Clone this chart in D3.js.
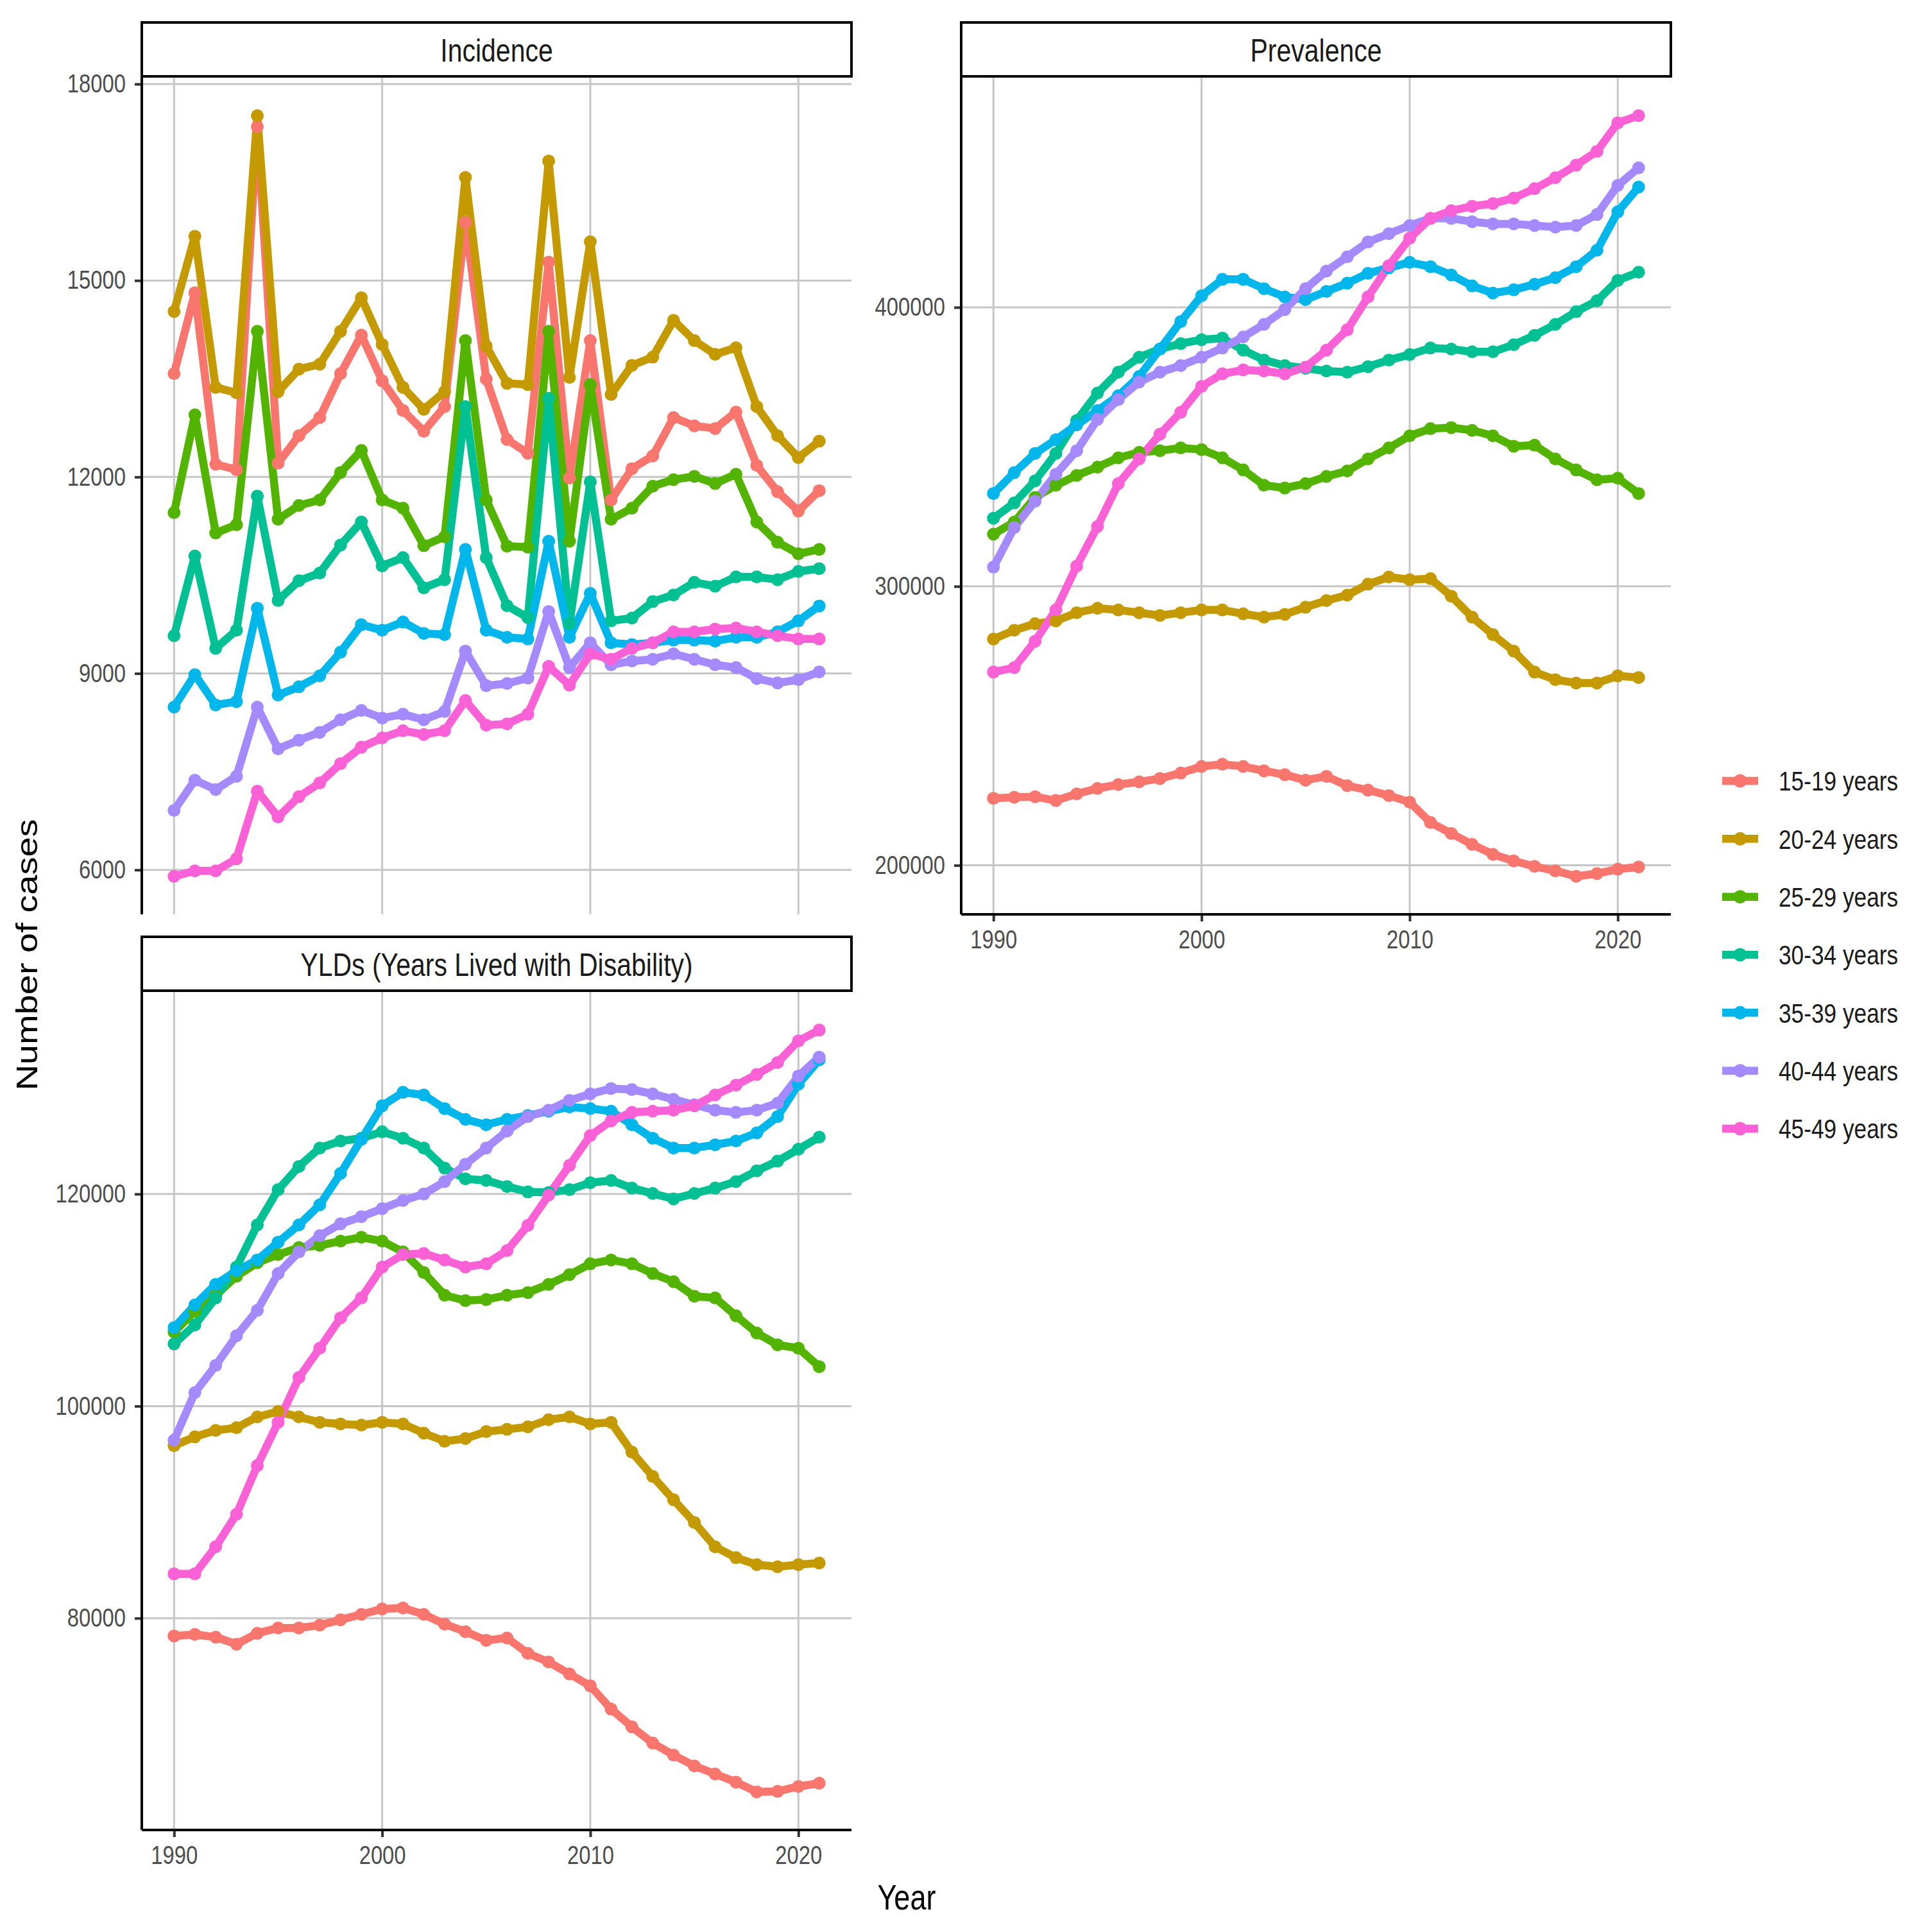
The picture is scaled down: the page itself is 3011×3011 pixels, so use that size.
<!DOCTYPE html>
<html>
<head>
<meta charset="utf-8">
<style>
html, body { margin: 0; padding: 0; background: #fff; }
text { font-family: "Liberation Sans", Arial, sans-serif; }
</style>
<script src="https://cdn.jsdelivr.net/npm/d3@7"></script>
</head>
<body>
<div id="chart"></div>
<script>
var years = d3.range(1990, 2022);
var groups = ["15-19 years", "20-24 years", "25-29 years", "30-34 years", "35-39 years", "40-44 years", "45-49 years"];
var colors = ["#F8766D", "#C49A00", "#53B400", "#00C094", "#00B6EB", "#A58AFF", "#FB61D7"];
var xTicks = [1990, 2000, 2010, 2020];

// Incidence
var inc15 = [13578,14812,12194,12110,17350,12211,12630,12907,13578,14166,13469,13016,12697,13075,15886,13494,12572,12362,15282,11984,14082,11649,12127,12320,12907,12781,12739,12991,12177,11775,11481,11791];
var inc20 = [14527,15676,13369,13285,17517,13302,13646,13721,14224,14736,14023,13369,13033,13302,16574,13998,13430,13411,16825,13520,15592,13260,13704,13830,14392,14082,13872,13973,13075,12630,12295,12546];
var inc25 = [11456,12949,11145,11271,14224,11355,11565,11649,12068,12404,11649,11523,10952,11087,14082,11649,10944,10928,14224,11019,13411,11355,11523,11859,11959,12009,11900,12043,11313,11003,10827,10894];
var inc30 = [9576,10793,9384,9660,11708,10114,10416,10533,10961,11313,10642,10768,10307,10432,13075,10768,10034,9853,13201,9761,11926,9803,9845,10097,10198,10391,10332,10474,10474,10432,10558,10600];
var inc35 = [8486,8981,8519,8570,9996,8671,8796,8964,9325,9744,9660,9786,9610,9593,10894,9660,9551,9526,11019,9551,10222,9467,9442,9467,9509,9509,9493,9551,9551,9635,9803,10030];
var inc40 = [6908,7370,7227,7429,8486,7848,7982,8100,8293,8435,8318,8377,8293,8419,9342,8813,8846,8930,9946,9090,9467,9132,9190,9216,9300,9216,9132,9090,8922,8855,8905,9023];
var inc45 = [5902,5985,5985,6170,7202,6808,7118,7328,7622,7873,8016,8125,8067,8125,8586,8209,8230,8377,9107,8821,9300,9216,9384,9467,9635,9635,9677,9694,9635,9576,9526,9526];
var incTicks = [6000, 9000, 12000, 15000, 18000];

// Prevalence
var prev15 = [224016,224410,224600,223230,225600,227560,228940,229920,231100,233070,235430,236220,235430,233860,232480,230510,231890,228540,226970,225000,222640,215360,211420,207490,203940,201580,199610,198030,196060,197040,198620,199410];
var prev20 = [281100,284250,286610,287600,290550,292130,291540,290550,289560,290550,291540,291540,290160,288980,289960,292520,294880,296850,300790,303350,302360,302750,296460,288980,282680,276770,269290,266540,265350,265350,267910,267320];
var prev25 = [318700,323030,331890,336220,339760,342720,346060,348030,348620,349610,349020,346060,341730,336220,335240,336810,339370,341340,345670,349610,353940,356500,356890,355900,353940,350200,350590,345670,341730,338190,338780,333270];
var prev30 = [324410,329920,337800,347640,359450,369290,376770,382090,385040,387010,388390,388980,384650,381100,379130,378150,377170,376770,378740,381100,383070,385430,385040,384060,384060,386610,389960,393900,398430,402360,409650,412600];
var prev35 = [333270,340750,347640,352560,357870,362990,368310,375200,385040,394880,404130,410040,410040,406690,403740,402760,405710,408660,412200,414170,416140,414570,411610,407680,405120,406300,408270,410630,414570,420470,434250,443110];
var prev40 = [306890,321060,330510,340160,348620,359840,366930,373230,376770,379130,382090,385430,389370,393900,399210,406690,412990,418110,423430,426380,429330,431890,431890,430710,429920,429920,429330,428740,429330,433270,443700,450000];
var prev45 = [269290,270860,280310,291540,307280,321460,336810,345670,354530,362400,371650,376180,377560,377170,376180,378540,384650,391930,403740,414960,424800,431890,434650,436220,437210,439180,442520,446460,450980,455910,466140,468700];
var prevTicks = [200000, 300000, 400000];

// YLDs
var yld15 = [78320,78470,78210,77550,78570,79080,79080,79340,79850,80360,80870,80970,80360,79440,78730,77910,78130,76680,75870,74740,73620,71430,69750,68220,67090,66070,65310,64540,63620,63670,64130,64440];
var yld20 = [96280,97100,97710,97960,98980,99490,98980,98470,98320,98210,98470,98320,97450,96680,96940,97600,97810,98040,98720,98980,98320,98470,95660,93370,91170,89030,86730,85710,85050,84850,85050,85200];
var yld25 = [106990,108930,110460,112250,113520,114290,114950,115150,115560,115920,115560,114540,112600,110460,109950,110050,110460,110710,111480,112400,113420,113780,113420,112500,111730,110360,110200,108520,106890,105770,105460,103720];
var yld30 = [105870,107650,110200,113110,117090,120410,122600,124340,125000,125260,125870,125260,124340,122450,121430,121280,120710,120200,120150,120410,121070,121280,120560,120050,119540,120050,120560,121170,122190,123110,124230,125360];
var yld35 = [107400,109540,111480,112760,113780,115460,117090,118980,121940,125150,128320,129590,129340,128060,127040,126530,127040,127400,127810,128210,128060,127810,126530,125260,124340,124340,124640,125000,125770,127300,130360,132650];
var yld40 = [96790,101280,103830,106630,109030,112500,114540,116070,117190,117860,118620,119390,120000,121170,122810,124340,125940,127300,127910,128830,129440,129950,129850,129440,128930,128420,127910,127700,127910,128570,131120,132910];
var yld45 = [84180,84180,86740,89800,94390,98470,102700,105460,108320,110200,113110,114290,114390,113780,113110,113420,114670,117040,119900,122700,125510,126890,127700,127810,127910,128320,129340,130260,131280,132400,134440,135460];
var yldTicks = [80000, 100000, 120000];

var W = 3011, H = 3011;
var squeeze = 0.82; // the source picture has horizontally condensed lettering

var svg = d3.select("#chart").append("svg")
  .attr("width", W)
  .attr("height", H)
  .style("background", "#fff");

svg.append("rect").attr("width", W).attr("height", H).attr("fill", "#fff");

// panel boxes (left, right, top, bottom)
var panels = [
  { title: "Incidence", series: [inc15, inc20, inc25, inc30, inc35, inc40, inc45], ticks: incTicks,
    left: 221, right: 1327, top: 121, bottom: 1425, xAxis: false },
  { title: "Prevalence", series: [prev15, prev20, prev25, prev30, prev35, prev40, prev45], ticks: prevTicks,
    left: 1498, right: 2604, top: 121, bottom: 1425, xAxis: true },
  { title: "YLDs (Years Lived with Disability)", series: [yld15, yld20, yld25, yld30, yld35, yld40, yld45], ticks: yldTicks,
    left: 221, right: 1327, top: 1546, bottom: 2852, xAxis: true }
];
var stripH = 86;

var drawPanel = function(p) {
  var x = d3.scaleLinear()
    .domain([1990 - 31 * 0.05, 2021 + 31 * 0.05])
    .range([p.left, p.right]);

  var all = d3.merge(p.series);
  var lo = d3.min(all), hi = d3.max(all), pad = (hi - lo) * 0.05;
  var y = d3.scaleLinear()
    .domain([lo - pad, hi + pad])
    .range([p.bottom, p.top]);

  var g = svg.append("g");

  // grid
  g.selectAll(".gy").data(p.ticks).enter().append("line")
    .attr("x1", p.left).attr("x2", p.right)
    .attr("y1", function(d) { return y(d); })
    .attr("y2", function(d) { return y(d); })
    .attr("stroke", "#c6c6c6").attr("stroke-width", 3);
  g.selectAll(".gx").data(xTicks).enter().append("line")
    .attr("y1", p.top).attr("y2", p.bottom)
    .attr("x1", function(d) { return x(d); })
    .attr("x2", function(d) { return x(d); })
    .attr("stroke", "#c6c6c6").attr("stroke-width", 3);

  // strip
  g.append("rect")
    .attr("x", p.left).attr("y", p.top - stripH)
    .attr("width", p.right - p.left).attr("height", stripH - 2)
    .attr("fill", "#fff").attr("stroke", "#000").attr("stroke-width", 4);
  g.append("text")
    .attr("x", (p.left + p.right) / 2)
    .attr("y", p.top - stripH / 2)
    .attr("dy", "0.36em")
    .attr("text-anchor", "middle")
    .attr("font-size", 50)
    .attr("fill", "#1a1a1a")
    .text(p.title);

  // y axis
  var yAxis = g.append("g")
    .attr("transform", "translate(" + p.left + ",0)")
    .call(d3.axisLeft(y).tickValues(p.ticks).tickFormat(d3.format("d")).tickSize(11).tickPadding(14));
  yAxis.select(".domain").remove();
  yAxis.selectAll(".tick line").attr("stroke", "#333").attr("stroke-width", 4);
  yAxis.selectAll(".tick text").attr("font-size", 40).attr("fill", "#4d4d4d")
    .attr("font-family", "Liberation Sans");
  g.append("line")
    .attr("x1", p.left).attr("x2", p.left)
    .attr("y1", p.top).attr("y2", p.bottom)
    .attr("stroke", "#000").attr("stroke-width", 4);

  if (p.xAxis) {
    var xAxis = g.append("g")
      .attr("transform", "translate(0," + p.bottom + ")")
      .call(d3.axisBottom(x).tickValues(xTicks).tickFormat(d3.format("d")).tickSize(11).tickPadding(14));
    xAxis.select(".domain").remove();
    xAxis.selectAll(".tick line").attr("stroke", "#333").attr("stroke-width", 4);
    xAxis.selectAll(".tick text").attr("font-size", 40).attr("fill", "#4d4d4d")
      .attr("font-family", "Liberation Sans");
    g.append("line")
      .attr("x1", p.left).attr("x2", p.right)
      .attr("y1", p.bottom).attr("y2", p.bottom)
      .attr("stroke", "#000").attr("stroke-width", 4);
  }

  var line = d3.line()
    .x(function(d, i) { return x(years[i]); })
    .y(function(d) { return y(d); });

  g.selectAll(".series").data(p.series).enter().append("path")
    .attr("d", line)
    .attr("fill", "none")
    .attr("stroke", function(d, i) { return colors[i]; })
    .attr("stroke-width", 12.5)
    .attr("stroke-linejoin", "round");

  p.series.forEach(function(s, k) {
    g.append("g").selectAll("circle").data(s).enter().append("circle")
      .attr("cx", function(d, i) { return x(years[i]); })
      .attr("cy", function(d) { return y(d); })
      .attr("r", 10)
      .attr("fill", colors[k]);
  });
};

panels.forEach(drawPanel);

// legend
var legend = svg.append("g");
var legY = d3.scalePoint().domain(groups).range([1217, 1759]);
var item = legend.selectAll(".item").data(groups).enter().append("g")
  .attr("transform", function(d) { return "translate(0," + legY(d) + ")"; });
item.append("line")
  .attr("x1", 2684).attr("x2", 2740)
  .attr("stroke", function(d, i) { return colors[i]; })
  .attr("stroke-width", 12.5);
item.append("circle")
  .attr("cx", 2712).attr("r", 10.5)
  .attr("fill", function(d, i) { return colors[i]; });
item.append("text")
  .attr("x", 2772).attr("dy", "0.36em")
  .attr("font-size", 43)
  .attr("fill", "#1a1a1a")
  .text(function(d) { return d; });

svg.append("text")
  .attr("x", 1413).attr("y", 2976)
  .attr("text-anchor", "middle")
  .attr("font-size", 55)
  .attr("fill", "#000")
  .text("Year");

// condense every horizontal label around its own anchor point
svg.selectAll("text").each(function() {
  var t = d3.select(this);
  var ax = +t.attr("x") || 0;
  t.attr("transform", "translate(" + ax + ",0) scale(" + squeeze + ",1) translate(" + (-ax) + ",0)");
});

// rotated y title (condensed across its thickness)
svg.append("text")
  .attr("transform", "translate(58,1488) scale(" + squeeze + ",1) rotate(-90)")
  .attr("text-anchor", "middle")
  .attr("font-size", 56)
  .attr("fill", "#000")
  .text("Number of cases");
</script>
</body>
</html>
